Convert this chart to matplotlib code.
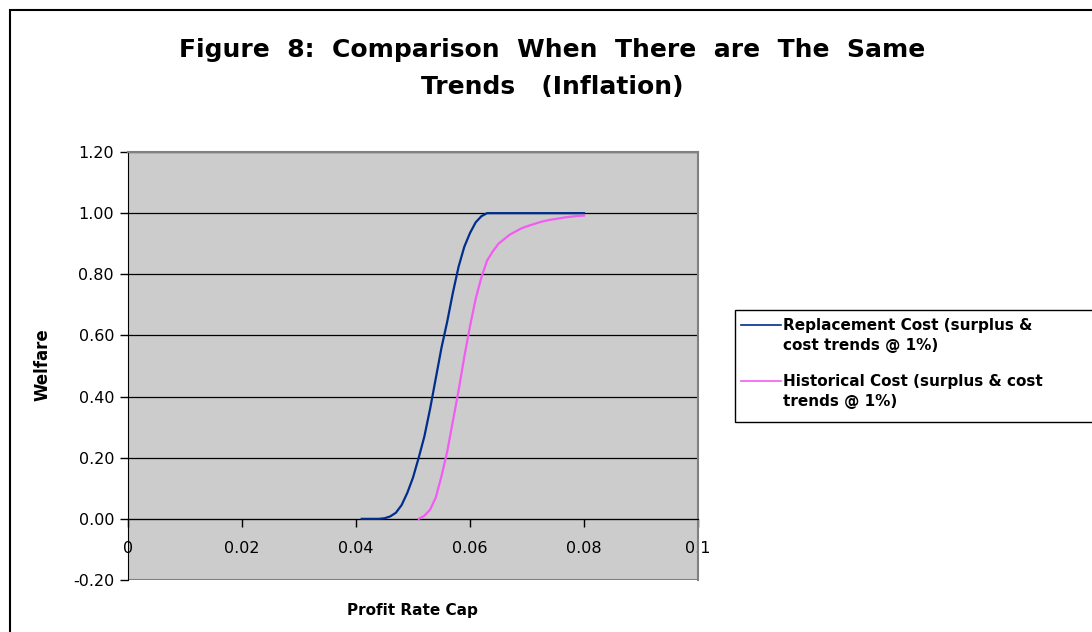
import matplotlib.pyplot as plt
from matplotlib.lines import Line2D
from matplotlib.patches import Rectangle

# Welfare vs profit rate cap, same trends (inflation)
x_repl = [0.041, 0.042, 0.043, 0.044, 0.045, 0.046, 0.047, 0.048, 0.049, 0.050,
          0.051, 0.052, 0.053, 0.054, 0.055, 0.056, 0.057, 0.058, 0.059, 0.060,
          0.061, 0.062, 0.063, 0.064, 0.065, 0.066, 0.067, 0.068, 0.069, 0.070,
          0.071, 0.072, 0.073, 0.074, 0.075, 0.076, 0.077, 0.078, 0.079, 0.080]
y_repl = [0.0, 0.0, 0.0, 0.0, 0.002, 0.008, 0.02, 0.045, 0.085, 0.135,
          0.20, 0.27, 0.36, 0.46, 0.56, 0.645, 0.74, 0.825, 0.89, 0.935,
          0.97, 0.99, 1.0, 1.0, 1.0, 1.0, 1.0, 1.0, 1.0, 1.0,
          1.0, 1.0, 1.0, 1.0, 1.0, 1.0, 1.0, 1.0, 1.0, 1.0]

x_hist = [0.051, 0.052, 0.053, 0.054, 0.055, 0.056, 0.057, 0.058, 0.059, 0.060,
          0.061, 0.062, 0.063, 0.064, 0.065, 0.066, 0.067, 0.068, 0.069, 0.070,
          0.071, 0.072, 0.073, 0.074, 0.075, 0.076, 0.077, 0.078, 0.079, 0.080]
y_hist = [0.0, 0.01, 0.03, 0.07, 0.14, 0.22, 0.32, 0.42, 0.53, 0.63,
          0.72, 0.79, 0.845, 0.875, 0.90, 0.915, 0.93, 0.94, 0.95, 0.957,
          0.963, 0.969, 0.974, 0.978, 0.981, 0.984, 0.987, 0.989, 0.991, 0.992]

x_ticks = [0, 0.02, 0.04, 0.06, 0.08, 0.1]
x_tick_labels = ['0', '0.02', '0.04', '0.06', '0.08', '0.1']
y_ticks = [-0.2, 0.0, 0.2, 0.4, 0.6, 0.8, 1.0, 1.2]

label_repl = 'Replacement Cost (surplus &\ncost trends @ 1%)'
label_hist = 'Historical Cost (surplus & cost\ntrends @ 1%)'

W, H = 1092, 632
fig = plt.figure(figsize=(W / 100, H / 100), dpi=100)

# outer chart frame (cropped on right and bottom)
fig.add_artist(Rectangle((10 / W, -0.1), 1.2, 1 - 10 / H + 0.1, transform=fig.transFigure,
                         fill=False, edgecolor='black', linewidth=1.5))

ax = fig.add_axes([128 / W, (H - 580) / H, 570 / W, 428 / H])
ax.set_facecolor('#CCCCCC')
ax.set_xlim(0, 0.1)
ax.set_ylim(-0.2, 1.2)

for y in y_ticks[1:]:
    ax.axhline(y, color='black', linewidth=0.9, zorder=1)
ax.axhline(-0.2, color='#808080', linewidth=1.5, zorder=1)

ax.plot(x_repl, y_repl, color='#002E8C', linewidth=1.6, zorder=3)
ax.plot(x_hist, y_hist, color='#F25CF2', linewidth=1.6, zorder=3)

ax.spines['bottom'].set_position(('data', 0))
ax.spines['bottom'].set_color('black')
ax.spines['left'].set_color('black')
ax.spines['top'].set_color('#808080')
ax.spines['right'].set_color('#808080')
ax.spines['top'].set_linewidth(1.5)
ax.spines['right'].set_linewidth(1.5)

ax.set_xticks(x_ticks)
ax.set_xticklabels(x_tick_labels)
ax.set_yticks(y_ticks)
ax.set_yticklabels(['%.2f' % v for v in y_ticks])
ax.tick_params(axis='both', direction='out', length=6, width=1, labelsize=11.5, pad=10)
ax.tick_params(axis='y', pad=4)

fig.text(552 / W, 1 - 50 / H, 'Figure  8:  Comparison  When  There  are  The  Same',
         ha='center', va='center', fontsize=18, fontweight='heavy')
fig.text(552 / W, 1 - 87 / H, 'Trends   (Inflation)',
         ha='center', va='center', fontsize=18, fontweight='heavy')
fig.text(42 / W, 1 - 365 / H, 'Welfare', rotation=90, ha='center', va='center',
         fontsize=12, fontweight='heavy')
fig.text(412 / W, 1 - 610 / H, 'Profit Rate Cap', ha='center', va='center',
         fontsize=11, fontweight='bold')

# legend box
fig.add_artist(Rectangle((735 / W, 1 - 422 / H), 0.5, 112 / H, transform=fig.transFigure,
                         fill=True, facecolor='white', edgecolor='black', linewidth=1))
for ly, col, lab in [(325, '#002E8C', label_repl), (381, '#F25CF2', label_hist)]:
    fig.add_artist(Line2D([741 / W, 781 / W], [1 - ly / H, 1 - ly / H],
                          transform=fig.transFigure, color=col, linewidth=1.2))
    fig.text(783 / W, 1 - (ly - 7) / H, lab, ha='left', va='top', fontsize=11,
             fontweight='bold', linespacing=1.45)

fig.savefig('out.png', dpi=100)
